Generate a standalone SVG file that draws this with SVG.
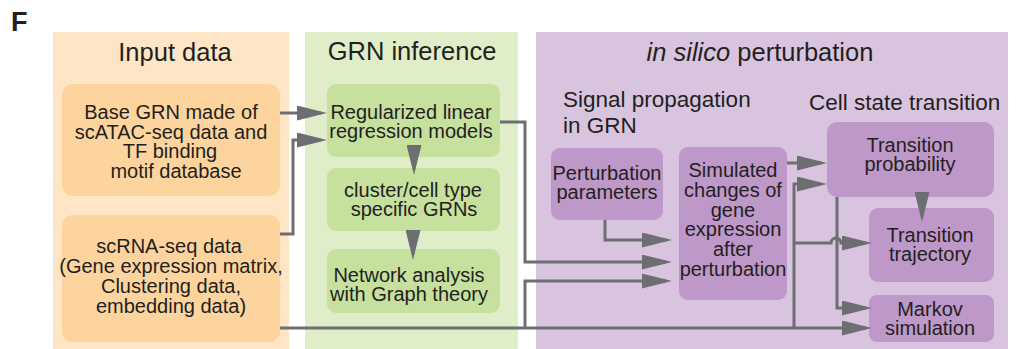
<svg xmlns="http://www.w3.org/2000/svg" width="1016" height="349" viewBox="0 0 1016 349">
<style>
text{font-family:"Liberation Sans",Arial,sans-serif;fill:#231f20}
.t{font-size:25.5px;text-anchor:middle}
.s{font-size:22.5px}
.n{font-size:20px;text-anchor:middle}
.pi{fill:#fee5c6}.ni{fill:#fdd49d}
.pg{fill:#dfedc9}.ng{fill:#c6e09e}
.pp{fill:#d9c4df}.np{fill:#be98c8}
.c path{fill:none;stroke:#6d6e71;stroke-width:3;marker-end:url(#ah)}
</style>
<defs>
<marker id="ah" viewBox="0 0 30 15" refX="24" refY="7.5" markerWidth="30" markerHeight="15" markerUnits="userSpaceOnUse" orient="auto">
<path d="M0,0 L30,7.5 L0,15 Z" fill="#6d6e71"/>
</marker>
</defs>
<rect width="1016" height="349" fill="#ffffff"/>
<text x="11" y="31" style="font-size:27px;font-weight:bold">F</text>
<g id="panel-input">
<rect class="pi" x="53" y="32" width="236" height="317"/>
<text class="t" x="175" y="61">Input data</text>
</g>
<g id="panel-grn">
<rect class="pg" x="305" y="32" width="213" height="317"/>
<text class="t" x="412" y="60">GRN inference</text>
</g>
<g id="panel-perturb">
<rect class="pp" x="536" y="32" width="472" height="317"/>
<text class="t" x="760" y="61"><tspan font-style="italic">in silico</tspan> perturbation</text>
<text class="s" x="563" y="107">Signal propagation</text>
<text class="s" x="563" y="133">in GRN</text>
<text class="s" x="809" y="110">Cell state transition</text>
</g>
<g id="node-base-grn">
<rect class="ni" x="62" y="84" width="218" height="112" rx="11"/>
<text class="n" x="171" y="119">Base GRN made of</text>
<text class="n" x="171" y="138.5">scATAC-seq data and</text>
<text class="n" x="170" y="158">TF binding</text>
<text class="n" x="176" y="177.5">motif database</text>
</g>
<g id="node-scrna">
<rect class="ni" x="62" y="215" width="218" height="127" rx="11"/>
<text class="n" x="169" y="253">scRNA-seq data</text>
<text class="n" x="171" y="273">(Gene expression matrix,</text>
<text class="n" x="171" y="293">Clustering data,</text>
<text class="n" x="171" y="313">embedding data)</text>
</g>
<g id="node-regression">
<rect class="ng" x="327" y="84" width="173" height="73" rx="9"/>
<text class="n" x="411" y="119">Regularized linear</text>
<text class="n" x="411" y="138">regression models</text>
</g>
<g id="node-cluster-grn">
<rect class="ng" x="327" y="168" width="173" height="63" rx="9"/>
<text class="n" x="413" y="197">cluster/cell type</text>
<text class="n" x="414" y="216">specific GRNs</text>
</g>
<g id="node-network">
<rect class="ng" x="327" y="249" width="173" height="64" rx="9"/>
<text class="n" x="409" y="282">Network analysis</text>
<text class="n" x="409" y="301">with Graph theory</text>
</g>
<g id="node-perturb-params">
<rect class="np" x="551" y="148" width="112" height="72" rx="9"/>
<text class="n" x="607" y="180">Perturbation</text>
<text class="n" x="607" y="199">parameters</text>
</g>
<g id="node-simulated">
<rect class="np" x="679" y="147" width="108" height="153" rx="9"/>
<text class="n" x="733" y="177">Simulated</text>
<text class="n" x="733" y="196.8">changes of</text>
<text class="n" x="733" y="216.6">gene</text>
<text class="n" x="733" y="236.4">expression</text>
<text class="n" x="733" y="256.2">after</text>
<text class="n" x="733" y="276">perturbation</text>
</g>
<g id="node-transition-prob">
<rect class="np" x="827" y="122" width="167" height="75" rx="10"/>
<text class="n" x="910" y="152">Transition</text>
<text class="n" x="910" y="171">probability</text>
</g>
<g id="node-transition-traj">
<rect class="np" x="869" y="208" width="125" height="74" rx="9"/>
<text class="n" x="930" y="242">Transition</text>
<text class="n" x="930" y="261">trajectory</text>
</g>
<g id="node-markov">
<rect class="np" x="869" y="295" width="125" height="47" rx="8"/>
<text class="n" x="930" y="316">Markov</text>
<text class="n" x="930" y="335">simulation</text>
</g>
<g id="connectors" class="c">
<path d="M280,113 H321"/>
<path d="M280,234 H293 V140 H321"/>
<path d="M500,122 H525 V262 H666"/>
<path d="M280,328 H866"/>
<path d="M525,328 V281 H666"/>
<path d="M605,220 V240 H666"/>
<path d="M794,328 V184 H821"/>
<path d="M787,163 H821"/>
<path d="M794,243 H831 A5,5 0 0 1 841,243 H866"/>
<path d="M837,197 V308 H866"/>
<path d="M414,145 V169"/>
<path d="M413,230 V254"/>
<path d="M922,192 V216"/>
</g>
</svg>
